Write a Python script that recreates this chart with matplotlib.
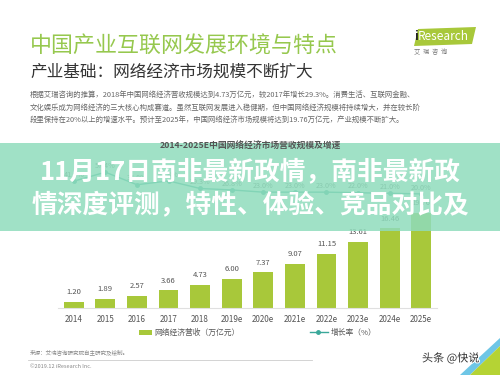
import matplotlib
matplotlib.use("Agg")
import matplotlib.pyplot as plt
from matplotlib.patches import Rectangle, Polygon
import matplotlib.patheffects as pe

plt.rcParams['font.family'] = ['Noto Sans CJK SC', 'DejaVu Sans']

years = ["2014", "2015", "2016", "2017", "2018", "2019e", "2020e", "2021e",
         "2022e", "2023e", "2024e", "2025e"]
revenue = [1.20, 1.89, 2.57, 3.66, 4.73, 6.00, 7.37, 9.07, 11.15, 13.61, 16.46, 19.76]
growth = [41.9, 57.4, 35.8, 42.4, 29.3, 26.8, 23.0, 23.0, 23.0, 22.0, 21.0, 20.0]

W, H = 500, 375
fig = plt.figure(figsize=(5, 3.75), dpi=100)
fig.patch.set_facecolor('white')

def fx(x):
    return x / W

def fy(y):
    return 1 - y / H

BAR = '#a8c83a'
LINE = '#3aa89a'

# ---- header ----
fig.text(fx(30), fy(47), "中国产业互联网发展环境与特点", fontsize=15.8,
         color='#96c84e', va='center', ha='left')
fig.text(fx(30), fy(72), "产业基础：网络经济市场规模不断扩大", fontsize=12,
         color='#333333', va='center', ha='left')
para = ["根据艾瑞咨询的推算，2018年中国网络经济营收规模达到4.73万亿元，较2017年增长29.3%。消费生活、互联网金融、",
        "文化娱乐成为网络经济的三大核心构成赛道。虽然互联网发展进入稳健期，但中国网络经济规模将持续增大，并在较长阶",
        "段里保持在20%以上的增速水平。预计至2025年，中国网络经济市场规模将达到19.76万亿元，产业规模不断扩大。"]
for i, line in enumerate(para):
    fig.text(fx(30), fy(95 + i * 12.5), line, fontsize=5.3, color='#666666',
             va='center', ha='left')

# iResearch logo
fig.patches.append(Polygon([[fx(414), fy(46)], [fx(418), fy(29)], [fx(476), fy(27)],
                            [fx(472), fy(44)]], closed=True, transform=fig.transFigure,
                           facecolor='#a8c83a', edgecolor='none'))
fig.text(fx(414), fy(37), "i", fontsize=9, color='#222222', va='center', ha='left',
         fontweight='bold')
fig.text(fx(418), fy(37), "Research", fontsize=8.5, color='white', va='center', ha='left')
fig.text(fx(414), fy(52), "艾  瑞  咨  询", fontsize=4.5, color='#777777', va='center',
         ha='left')

# ---- chart ----
ax = fig.add_axes([fx(58), fy(308), 379 / W, 120.75 / H])
x = list(range(len(years)))
ax.bar(x, revenue, width=0.63, color=BAR, zorder=2)
for xi, v in zip(x, revenue):
    ax.text(xi, v + 1.2, f"{v:.2f}", ha='center', va='bottom', fontsize=5.5,
            color='#555555', clip_on=False)
ax.set_xlim(-0.5, 11.5)
ax.set_ylim(0, 25)
ax.set_xticks(x)
ax.set_xticklabels(years, fontsize=5.8, color='#555555')
ax.tick_params(axis='x', length=0, pad=5)
ax.set_yticks([])
for s in ['top', 'right', 'left']:
    ax.spines[s].set_visible(False)
ax.spines['bottom'].set_color('#e0e0e0')
ax.spines['bottom'].set_linewidth(0.8)
ax.patch.set_alpha(0)

ax2 = fig.add_axes([fx(58), fy(210), 379 / W, 45 / H])
ax2.plot(x, growth, color=LINE, lw=1.0, marker='o', ms=2.5, clip_on=False)
for xi, g in zip(x, growth):
    ax2.text(xi, g + 4, f"{g:.1f}%", ha='center', va='bottom', fontsize=5.2,
             color='#666666', clip_on=False)
ax2.set_xlim(-0.5, 11.5)
ax2.set_ylim(-7.76, 69.8)
ax2.axis('off')

# legend
fig.patches.append(Rectangle((fx(139), fy(335)), 13 / W, 5 / H, transform=fig.transFigure,
                             facecolor=BAR, edgecolor='none'))
fig.text(fx(154), fy(333), "网络经济营收（万亿元）", fontsize=5.6, color='#555555',
         va='center', ha='left')
fig.lines.append(plt.Line2D([fx(310), fx(328)], [fy(332), fy(332)], transform=fig.transFigure,
                            color=LINE, lw=1.0))
fig.lines.append(plt.Line2D([fx(318)], [fy(332)], transform=fig.transFigure, color=LINE,
                            marker='o', ms=2.5))
fig.text(fx(331), fy(333), "增长率（%）", fontsize=5.6, color='#555555', va='center',
         ha='left')

# footer
fig.text(fx(30), fy(352), "来源：艾瑞咨询研究院自主研究及绘制。", fontsize=4, color='#888888',
         va='center', ha='left')
fig.lines.append(plt.Line2D([fx(28), fx(312)], [fy(360), fy(360)], transform=fig.transFigure,
                            color='#cccccc', lw=0.6))
fig.text(fx(30), fy(366), "©2019.12 iResearch Inc.", fontsize=4, color='#888888',
         va='center', ha='left')

# corner triangle
fig.patches.append(Polygon([[fx(460), fy(375)], [fx(500), fy(338)], [fx(500), fy(346)],
                            [fx(470), fy(375)]], closed=True, transform=fig.transFigure,
                           facecolor='#6ec6e6', edgecolor='none', zorder=5))
fig.patches.append(Polygon([[fx(470), fy(375)], [fx(500), fy(346)], [fx(500), fy(375)]],
                           closed=True, transform=fig.transFigure,
                           facecolor='#b5d334', edgecolor='none', zorder=5))

# watermark
fig.text(fx(422), fy(358), "头条 @快说", fontsize=8, color='#333333', va='center',
         ha='left', zorder=6,
         path_effects=[pe.withStroke(linewidth=1.5, foreground='white')])

# ---- banner overlay ----
fig.patches.append(Rectangle((0, fy(231)), 1, (231 - 143) / H, transform=fig.transFigure,
                             facecolor='#8fdcbc', edgecolor='none', alpha=0.85, zorder=10))
fig.text(fx(250), fy(146), "2014-2025E中国网络经济市场营收规模及增速", fontsize=6.3,
         fontweight='bold', color='#555555', va='center', ha='center', zorder=11)
fig.text(fx(250), fy(172), "11月17日南非最新政情，南非最新政", fontsize=18.5,
         fontweight='bold', color='white', va='center', ha='center', zorder=12)
fig.text(fx(250), fy(206), "情深度评测，特性、体验、竞品对比及", fontsize=18.5,
         fontweight='bold', color='white', va='center', ha='center', zorder=12)

fig.savefig("out.png", dpi=100, facecolor='white')
